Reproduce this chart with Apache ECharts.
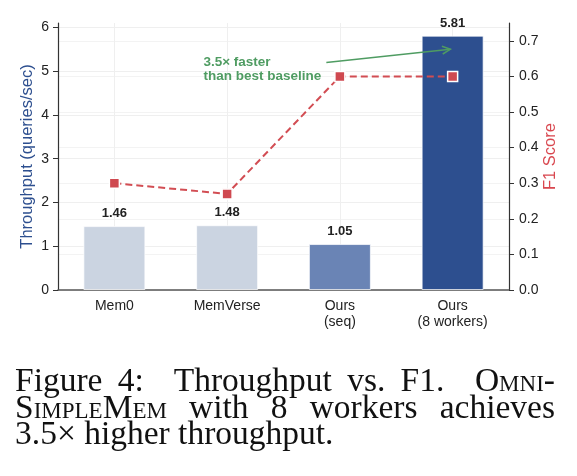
<!DOCTYPE html>
<html>
<head>
<meta charset="utf-8">
<script src="https://cdn.jsdelivr.net/npm/echarts@6/dist/echarts.min.js"></script>
<style>
	body { margin: 0; background: #fff; }
	#wrap { position: relative; width: 577px; height: 476px; }
	#chart { position: absolute; left: 0; top: 0; width: 577px; height: 476px; }
	#caption {
		position: absolute; left: 15px; top: 367px; width: 540px;
		font-family: 'Liberation Serif', 'DejaVu Serif', serif;
		font-size: 33.5px; line-height: 26.5px; color: #111;
	}
	#caption .j { text-align: justify; text-align-last: justify; white-space: nowrap; }
	#caption .sc { font-variant: small-caps; }
</style>
</head>
<body>
<div id="wrap">
	<div id="chart"></div>
	<div id="caption">
		<div class="j">Figure 4:&nbsp; Throughput vs. F1.&nbsp; <span class="sc">Omni-</span></div>
		<div class="j"><span class="sc">SimpleMem</span> with 8 workers achieves</div>
		<div>3.5× higher throughput.</div>
	</div>
</div>
<script>
var categories = ['Mem0', 'MemVerse', 'Ours\n(seq)', 'Ours\n(8 workers)'];
var throughput = [1.46, 1.48, 1.05, 5.81];
var f1Score = [0.30, 0.27, 0.60, 0.60];
var barColors = ['#cbd4e1', '#cbd4e1', '#6a84b5', '#2d4f8f'];
var leftTicks = [0, 1, 2, 3, 4, 5, 6];
var rightTicks = [0, 0.1, 0.2, 0.3, 0.4, 0.5, 0.6, 0.7];
// annotation, in (category index, throughput)
var noteText = '3.5× faster\nthan best baseline';
var noteAt = [0.79, 5.04];
var arrowFrom = [1.88, 5.2];
var arrowTo = [2.98, 5.5];

var chart = echarts.init(document.getElementById('chart'));
var font = 'Liberation Sans, Arial, sans-serif';

chart.setOption({
	animation: false,
	grid: { left: 58, right: 68, top: 23, bottom: 186 },
	xAxis: {
		type: 'category',
		data: categories,
		axisLine: { lineStyle: { color: '#555', width: 1.5 } },
		axisTick: { show: false },
		axisLabel: { color: '#222', fontSize: 14, fontFamily: font, lineHeight: 16, margin: 8 },
		splitLine: { show: true, alignWithLabel: true, lineStyle: { color: '#efefef', width: 1 } }
	},
	yAxis: [{
		type: 'value', min: 0, max: 6.1, interval: 1,
		name: 'Throughput (queries/sec)', nameLocation: 'middle', nameGap: 22, nameMoveOverlap: false,
		nameTextStyle: { color: '#2d4f8f', fontSize: 16.5, fontFamily: font },
		axisLine: { show: true, lineStyle: { color: '#333', width: 1.2 } },
		axisTick: { show: true, length: 5, customValues: leftTicks, lineStyle: { color: '#333' } },
		axisLabel: { color: '#222', fontSize: 14, fontFamily: font, margin: 9, customValues: leftTicks },
		splitLine: { show: true, lineStyle: { color: '#efefef', width: 1 } }
	}, {
		type: 'value', min: 0, max: 0.75, interval: 0.1,
		name: 'F1 Score', nameLocation: 'middle', nameGap: 33, nameMoveOverlap: false,
		nameTextStyle: { color: '#d9474f', fontSize: 16.5, fontFamily: font },
		axisLine: { show: true, lineStyle: { color: '#333', width: 1.2 } },
		axisTick: { show: true, length: 5, customValues: rightTicks, lineStyle: { color: '#333' } },
		axisLabel: {
			color: '#222', fontSize: 14, fontFamily: font, margin: 10, customValues: rightTicks,
			formatter: function (v) { return v.toFixed(1); }
		},
		splitLine: { show: true, lineStyle: { color: '#f3f3f3', width: 1 } }
	}],
	series: [{
		type: 'bar',
		data: throughput.map(function (v, i) {
			return { value: v, itemStyle: { color: barColors[i] } };
		}),
		barWidth: 62,
		itemStyle: { borderColor: 'rgba(255,255,255,0.7)', borderWidth: 1 },
		label: {
			show: true, position: 'top', distance: 6,
			fontSize: 13, fontWeight: 'bold', color: '#222', fontFamily: font,
			formatter: function (p) { return p.value.toFixed(2); }
		}
	}, {
		type: 'line',
		yAxisIndex: 1,
		data: f1Score,
		symbol: 'rect', symbolSize: 10,
		itemStyle: { color: '#cf4950', borderColor: '#fff', borderWidth: 1.5 },
		lineStyle: { color: '#d24d53', width: 2, type: [7, 4] },
		z: 5
	}]
});

// map (index, throughput) to pixels
function toPx(p) {
	var a = chart.convertToPixel({ xAxisIndex: 0 }, categories[0]);
	var b = chart.convertToPixel({ xAxisIndex: 0 }, categories[1]);
	var y = chart.convertToPixel({ yAxisIndex: 0 }, p[1]);
	return [a + (b - a) * p[0], y];
}

var s = toPx(arrowFrom), e = toPx(arrowTo), t = toPx(noteAt);
var ang = Math.atan2(e[1] - s[1], e[0] - s[0]);
var hl = 9, hw = 0.45;
var green = '#4f9c62';
chart.setOption({
	graphic: [{
		type: 'text', left: t[0], top: t[1] - 14, z: 100,
		style: {
			text: noteText, fill: green, font: 'bold 13.5px ' + font,
			lineHeight: 14
		}
	}, {
		type: 'line', z: 100,
		shape: { x1: s[0], y1: s[1], x2: e[0], y2: e[1] },
		style: { stroke: green, lineWidth: 1.5 }
	}, {
		type: 'polyline', z: 100,
		shape: { points: [
			[e[0] - hl * Math.cos(ang - hw), e[1] - hl * Math.sin(ang - hw)],
			[e[0], e[1]],
			[e[0] - hl * Math.cos(ang + hw), e[1] - hl * Math.sin(ang + hw)]
		] },
		style: { stroke: green, lineWidth: 1.5, fill: null }
	}]
});
</script>
</body>
</html>
